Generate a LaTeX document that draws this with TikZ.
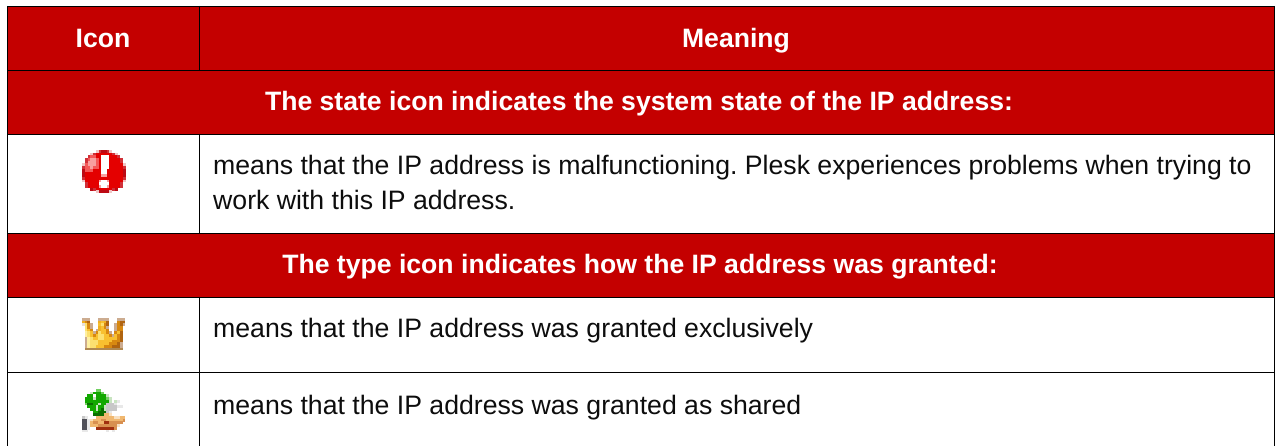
\documentclass[tikz,border=0pt]{standalone}
\usepackage{fontspec}
\setmainfont{Liberation Sans}
\definecolor{hdr}{HTML}{C40000}
% alert icon palette
\definecolor{pxa}{HTML}{F0C4C4}\definecolor{pxb}{HTML}{D03038}\definecolor{pxr}{HTML}{E40000}
\definecolor{pxd}{HTML}{BC0A14}\definecolor{pxp}{HTML}{F45858}\definecolor{pxq}{HTML}{F8A0A0}
\definecolor{pxw}{HTML}{FFFFFF}
% crown palette
\definecolor{pxs}{HTML}{CCAC90}\definecolor{pxg}{HTML}{F0B020}\definecolor{pxo}{HTML}{D88810}
\definecolor{pxB}{HTML}{B06410}\definecolor{pxy}{HTML}{FCE070}\definecolor{pxl}{HTML}{FFF0A0}
\definecolor{pxe}{HTML}{F8C030}\definecolor{pxD}{HTML}{B08850}\definecolor{pxf}{HTML}{E8E0D8}
% hand palette
\definecolor{pxG}{HTML}{12A800}\definecolor{pxH}{HTML}{0A6E00}\definecolor{pxL}{HTML}{70D060}
\definecolor{pxm}{HTML}{C8E4C0}\definecolor{pxt}{HTML}{C8C8C8}\definecolor{pxu}{HTML}{E8E8E8}
\definecolor{pxk}{HTML}{505058}\definecolor{pxj}{HTML}{F0B870}\definecolor{pxi}{HTML}{D89050}
\definecolor{pxn}{HTML}{A03010}\definecolor{pxv}{HTML}{F8E0C0}
\newcount\pxcol
\def\pxrowdraw#1#2#3#4{\pxcol=0 \pxscan{#1}{#2}{#3}#4\relax}
\def\pxscan#1#2#3#4{%
  \ifx#4\relax
    \let\pxnext\relax
  \else
    \if#4x\else
      \fill[px#4] ({#1+\the\pxcol*#3},{#2}) rectangle ++(#3+0.1,#3+0.1);
    \fi
    \advance\pxcol by 1
    \def\pxnext{\pxscan{#1}{#2}{#3}}%
  \fi
  \pxnext}
\newcommand{\pxicon}[4]{%
  \foreach \pxrow [count=\pxi from 0] in {#4} {%
    \pgfmathsetmacro{\pxyy}{#2+\pxi*#3}%
    \edef\pxtmp{\noexpand\pxrowdraw{#1}{\pxyy}{#3}{\pxrow}}\pxtmp
  }}
\tikzset{
  rule/.style={black,line width=0.9pt},
  head/.style={font=\fontsize{26.6pt}{30pt}\selectfont\bfseries,text=white,inner sep=0pt,anchor=base},
  body/.style={font=\fontsize{26.65pt}{30pt}\selectfont\frenchspacing,text=black!95,inner sep=0pt,anchor=base west}
}
\begin{document}
\begin{tikzpicture}[x=1pt,y=-1pt]
\useasboundingbox (0,0) rectangle (1275,446);
\fill[white] (0,0) rectangle (1275,446);
\fill[hdr] (7,6) rectangle (1274.5,134);
\fill[hdr] (7,233) rectangle (1274.5,297);
% rules
\draw[rule] (7,6) -- (1274.5,6);
\draw[rule] (7,70) -- (1274.5,70);
\draw[rule] (7,134) -- (1274.5,134);
\draw[rule] (7,233) -- (1274.5,233);
\draw[rule] (7,297) -- (1274.5,297);
\draw[rule] (7,372.5) -- (1274.5,372.5);
\draw[rule] (7,6) -- (7,446);
\draw[rule] (1274.5,6) -- (1274.5,446);
\draw[rule] (199.5,6) -- (199.5,70);
\draw[rule] (199.5,134) -- (199.5,233);
\draw[rule] (199.5,297) -- (199.5,446);
% text
\node[head] (h1) at (103,48) {Icon};
\node[head] (h2) at (736,48) {Meaning};
\node[head] (s1) at (639,111) {The state icon indicates the system state of the IP address:};
\node[head] (s2) at (640,274) {The type icon indicates how the IP address was granted:};
\node[body] (t1) at (213,175) {means that the IP address is malfunctioning. Plesk experiences problems when trying to};
\node[body] (t2) at (213,210) {work with this IP address.};
\node[body] (t3) at (213,338) {means that the IP address was granted exclusively};
\node[body] (t4) at (213,414.5) {means that the IP address was granted as shared};
% alert icon
\pxicon{82.3}{150}{2.7}{
xxxxxabddbaxxxxx,
xxxabrrrrrrbaxxx,
xxbpprrwwwrrrbxx,
xbpqqprwwwrrrrbx,
xbqqqprwwwrrrrbx,
apqqqprwwwrrrrra,
bppqpprwwwrrrrrb,
dppprrrwwrrrrrrd,
drrrrrrwwrrrrrrd,
drrrrrrqqrrrrrrd,
brrrrrrrrrrrrrrb,
arrrrrqwwqrrrrra,
xbrrrrwwwwrrrrbx,
xbrrrrqwwqrrrrbx,
xxxdbrrrrrrbdxxx,
xxxxxaddddaxxxxx}
% crown icon
\pxicon{82}{318}{2.7}{
sssxxxssssxxxsss,
goBxxxgegBxxxoBB,
fyosxxeyoBxxsoBs,
xyosxxgeosxxsoox,
xyeoxsgeeoxxsoox,
xlyesoyeeosxoeBx,
xlyeoeyyeeoseoBx,
xslyeeyyeeeeeoBx,
xslyyyeeeeeoooBx,
xslyyyeeeeoooBsx,
xslyyeeeoooBBBsx,
xDDDDDDDDDDDDDDx}
% hand icon
\pxicon{82}{389}{2.7}{
xxxxxLLxxxxxxxxx,
xxxmGGGLxxxxxxxx,
xxGGwGGGGmxxxxxx,
xGGGmGGGGLmxxxxx,
xGGGGGGGGGmxmuxx,
xLHHGGmGGtttuxxx,
xxGGGmGGmttttuux,
xxxGGmGHmttttxxx,
xxxxGGHHHtuxxxxx,
xxxxHHHHjjvxxxxx,
tuxxxjjjjjjjvvjj,
kkuvjjjiijjjjjji,
kkujiijjnniiiiix,
kkujjjiiiiiiivxx,
kkuxxnnnnnnnixxx,
uuxxxxxxxuxuxxxx}
\end{tikzpicture}
\end{document}
